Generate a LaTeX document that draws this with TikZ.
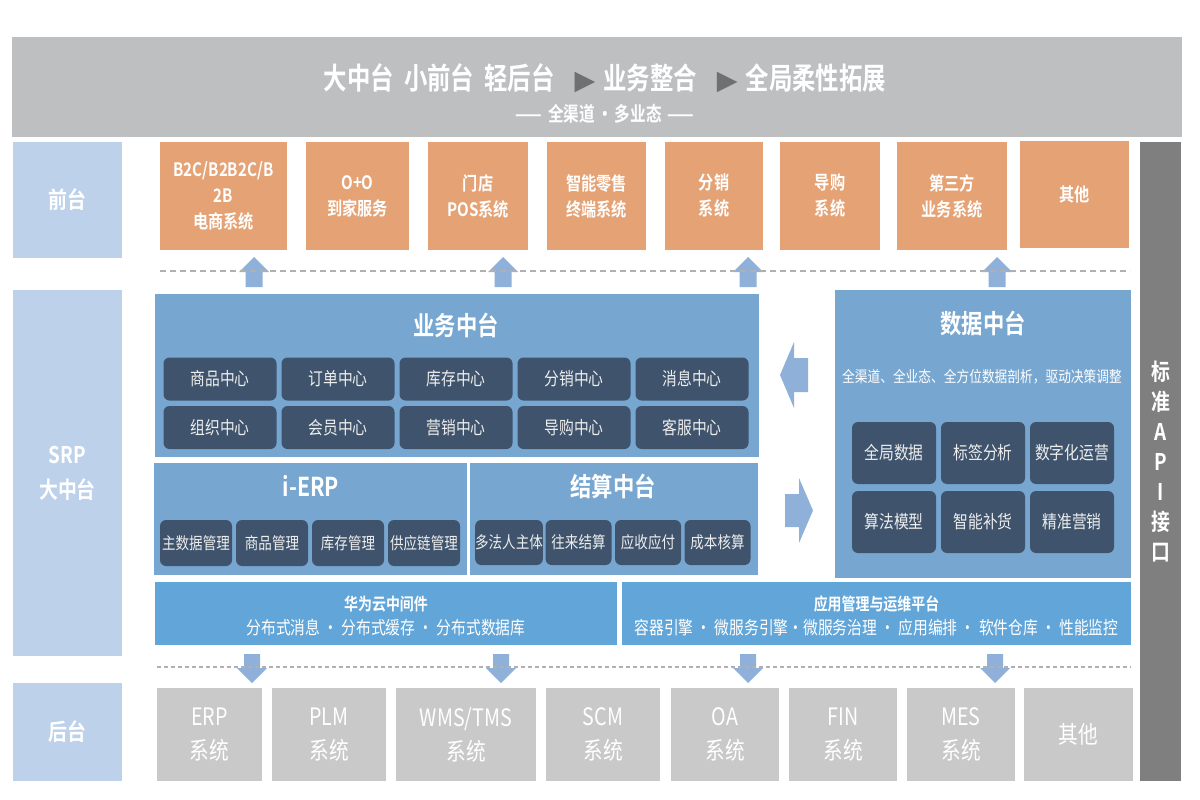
\documentclass[tikz,border=0pt]{standalone}
\usepackage{fontspec}
\setmainfont{Noto Sans CJK SC}[FakeStretch=0.82,BoldFont={Noto Sans CJK SC Bold}]
\newfontfamily\titlefont{Noto Sans CJK SC}[FakeStretch=0.78,BoldFont={Noto Sans CJK SC Bold}]
\newfontfamily\symfont{DejaVu Sans}
\definecolor{bannergray}{HTML}{BDBFC1}
\definecolor{trigray}{HTML}{6F7072}
\definecolor{lblblue}{HTML}{BDD1EA}
\definecolor{orangebox}{HTML}{E4A275}
\definecolor{midblue}{HTML}{77A7D1}
\definecolor{darkbox}{HTML}{3F546C}
\definecolor{mwblue}{HTML}{62A6D9}
\definecolor{bgray}{HTML}{C9C9C9}
\definecolor{apigray}{HTML}{7F7F7F}
\definecolor{arrowblue}{HTML}{8EB0D9}
\definecolor{dashgray}{HTML}{B0B0B0}
\definecolor{lighttext}{HTML}{EEEEEE}
\newcommand\upblock[1]{\fill[arrowblue] (#1-8.5,287) -- (#1-8.5,272) -- (#1-15,272) -- (#1,257) -- (#1+15,272) -- (#1+8.5,272) -- (#1+8.5,287) -- cycle;}
\newcommand\downblock[1]{\fill[arrowblue] (#1-8,654) -- (#1-8,668) -- (#1-15,668) -- (#1,683) -- (#1+15,668) -- (#1+8,668) -- (#1+8,654) -- cycle;}
\newcommand\tri{{\color{trigray}\symfont\fontsize{27}{30}\selectfont ▶}}
\begin{document}
\begin{tikzpicture}[x=1pt,y=-1pt,
  every node/.style={inner sep=0pt,outer sep=0pt},
  wh/.style 2 args={minimum width=#1pt,minimum height=#2pt},
  lbl/.style={fill=lblblue,text=white,font=\fontsize{23}{35}\selectfont\bfseries,align=center},
  fbox/.style={fill=orangebox,text=white,font=\fontsize{18.5}{26}\selectfont\bfseries,align=center},
  midbox/.style={fill=midblue},
  inbox/.style={fill=darkbox,rounded corners=6pt,text=lighttext,font=\fontsize{18}{20}\selectfont,align=center},
  smallin/.style={fill=darkbox,rounded corners=6pt,text=lighttext,font=\fontsize{16.5}{18}\selectfont,align=center},
  bbox/.style={fill=bgray,text=white,font=\fontsize{24}{34}\selectfont,align=center},
  mwbox/.style={fill=mwblue},
  ttl/.style={text=white,font=\fontsize{26}{30}\selectfont\bfseries},
  mwtitle/.style={text=white,font=\fontsize{17}{20}\selectfont\bfseries},
  mwsub/.style={text=white,font=\fontsize{18}{20}\selectfont},
  dashline/.style={draw=dashgray,line width=2pt}
]
\fill[white] (0,0) rectangle (1200,800);
\useasboundingbox (0,0) rectangle (1200,800);

% banner
\node[fill=bannergray,wh={1170}{100}] (banner) at (597,87) {};
\node[text=white,font=\titlefont\fontsize{30}{34}\selectfont\bfseries] (title) at (605,78)
  {大中台\hspace{10pt}小前台\hspace{10pt}轻后台\hspace{20pt}\tri\hspace{8pt}业务整合\hspace{20pt}\tri\hspace{8pt}全局柔性拓展};
\node[text=white,font=\titlefont\fontsize{20}{22}\selectfont\bfseries] (subtitle) at (605,114) {——\hspace{6pt}全渠道\hspace{2pt}·\hspace{2pt}多业态\hspace{6pt}——};

% left labels
\node[lbl,wh={109}{116}] (qian) at (67.5,200) {前台};
\node[lbl,wh={109}{366}] (srp) at (67.5,473) {SRP\\大中台};
\node[lbl,wh={109}{98}] (hou) at (67.5,732) {后台};

% front row
\node[fbox,wh={127}{108}] (f1) at (223.5,196) {B2C/B2B2C/B\\2B\\电商系统};
\node[fbox,wh={103}{108}] (f2) at (357.5,196) {O+O\\到家服务};
\node[fbox,wh={100}{108}] (f3) at (478,196) {门店\\POS系统};
\node[fbox,wh={99}{108}] (f4) at (596.5,196) {智能零售\\终端系统};
\node[fbox,wh={98}{108}] (f5) at (714,196) {分销\\系统};
\node[fbox,wh={100}{108}] (f6) at (830,196) {导购\\系统};
\node[fbox,wh={110}{108}] (f7) at (952,196) {第三方\\业务系统};
\node[fbox,wh={109}{107}] (f8) at (1074.5,194.5) {其他};

% up arrows and dashed line
\upblock{254}\upblock{503}\upblock{748}\upblock{997}
\coordinate (d1a) at (160,271);
\coordinate (d1b) at (1130,271);
\draw[dashline,dash pattern=on 6pt off 4pt] (d1a) -- (d1b);

% API bar
\node[fill=apigray,wh={41}{639},text=white,font=\fontsize{23}{30}\selectfont\bfseries,align=center] (api) at (1160.5,461.5) {标\\准\\A\\P\\I\\接\\口};

% business middle platform
\node[midbox,wh={604}{163}] (yw) at (457,375.5) {};
\node[ttl] (ywt) at (456,325) {业务中台};
\foreach \t [count=\i] in {商品中心,订单中心,库存中心,分销中心,消息中心}
  \node[inbox,wh={113}{43}] (a\i) at ({220+118*(\i-1)},379) {\t};
\foreach \t [count=\i] in {组织中心,会员中心,营销中心,导购中心,客服中心}
  \node[inbox,wh={113}{43}] (b\i) at ({220+118*(\i-1)},427.5) {\t};

% i-ERP
\node[midbox,wh={313}{112}] (erp) at (310.5,519) {};
\node[ttl] (erpt) at (311,486) {i-ERP};
\foreach \t [count=\i] in {主数据管理,商品管理,库存管理,供应链管理}
  \node[smallin,wh={72}{46}] (e\i) at ({196+76*(\i-1)},543) {\t};

% settlement
\node[midbox,wh={288}{112}] (js) at (614,519) {};
\node[ttl] (jst) at (613,486) {结算中台};
\foreach \t [count=\i] in {多法人主体,往来结算,应收应付,成本核算}
  \node[smallin,wh={66}{45}] (s\i) at ({509+69.5*(\i-1)},542.5) {\t};

% data middle platform
\node[midbox,wh={296}{288}] (data) at (983,434) {};
\node[ttl] (datat) at (983,323) {数据中台};
\node[text=white,font=\fontsize{15.5}{18}\selectfont] (datasub) at (982,377) {全渠道、全业态、全方位数据剖析，驱动决策调整};
\foreach \t [count=\i] in {全局数据,标签分析,数字化运营}
  \node[inbox,wh={84}{62}] (g\i) at ({894+89*(\i-1)},453) {\t};
\foreach \t [count=\i] in {算法模型,智能补货,精准营销}
  \node[inbox,wh={84}{62}] (h\i) at ({894+89*(\i-1)},522) {\t};

% big side arrows
\fill[arrowblue] (780,375) -- (794,342) -- (794,358) -- (808,358) -- (808,392) -- (794,392) -- (794,408) -- cycle;
\fill[arrowblue] (813,510.5) -- (799,478) -- (799,494) -- (785,494) -- (785,527) -- (799,527) -- (799,543) -- cycle;

% middleware row
\node[mwbox,wh={462}{63}] (hw) at (386,613.5) {};
\node[mwtitle] (hwt) at (386,604) {华为云中间件};
\node[mwsub] (hws) at (386,628) {分布式消息 · 分布式缓存 · 分布式数据库};
\node[mwbox,wh={509}{63}] (ops) at (876.5,613.5) {};
\node[mwtitle] (opst) at (876.5,604) {应用管理与运维平台};
\node[mwsub] (opss) at (876.5,628) {容器引擎 · 微服务引擎·微服务治理 · 应用编排 · 软件仓库 · 性能监控};

% down arrows and dashed line
\downblock{252}\downblock{501}\downblock{748}\downblock{995}
\coordinate (d2a) at (157,667);
\coordinate (d2b) at (1131,667);
\draw[dashline,dash pattern=on 4pt off 3pt] (d2a) -- (d2b);

% back-end systems
\node[bbox,wh={105}{93}] (k1) at (209.5,734.5) {ERP\\系统};
\node[bbox,wh={114}{93}] (k2) at (329,734.5) {PLM\\系统};
\node[bbox,wh={140}{93}] (k3) at (466,734.5) {WMS/TMS\\系统};
\node[bbox,wh={114}{93}] (k4) at (603,734.5) {SCM\\系统};
\node[bbox,wh={108}{93}] (k5) at (725,734.5) {OA\\系统};
\node[bbox,wh={108}{93}] (k6) at (843,734.5) {FIN\\系统};
\node[bbox,wh={108}{93}] (k7) at (961,734.5) {MES\\系统};
\node[bbox,wh={109}{93}] (k8) at (1078.5,734.5) {其他};
\end{tikzpicture}
\end{document}
